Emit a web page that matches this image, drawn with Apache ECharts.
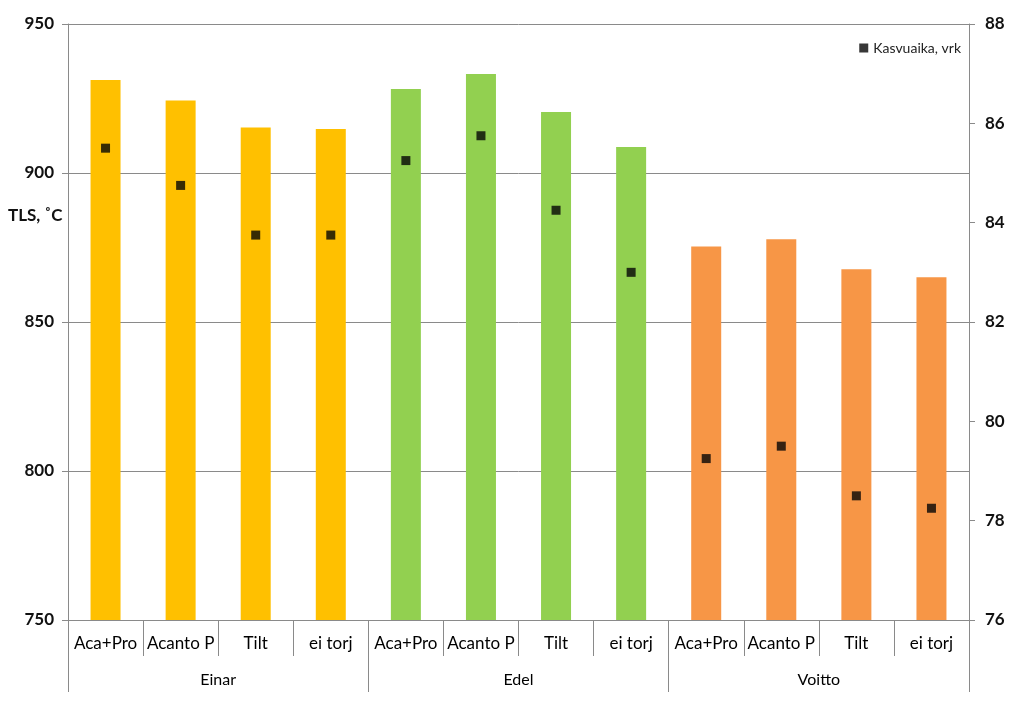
<!DOCTYPE html>
<html>
<head>
<meta charset="utf-8">
<script src="https://cdn.jsdelivr.net/npm/echarts@6/dist/echarts.min.js"></script>
<style>
html,body{margin:0;padding:0;background:#fff;}
#main{width:1024px;height:708px;}
</style>
</head>
<body>
<div id="main"></div>
<script>
const categories = ['Aca+Pro','Acanto P','Tilt','ei torj','Aca+Pro','Acanto P','Tilt','ei torj','Aca+Pro','Acanto P','Tilt','ei torj'];
const groups = ['Einar','Edel','Voitto'];
const tlsValues = [931.2, 924.3, 915.3, 914.8, 928.2, 933.2, 920.5, 908.7, 875.3, 877.8, 867.7, 865.0];
const kasvuaikaValues = [85.5, 84.75, 83.75, 83.75, 85.25, 85.75, 84.25, 83.0, 79.25, 79.5, 78.5, 78.25];
const leftTicks = [750, 800, 850, 900, 950];
const rightTicks = [76, 78, 80, 82, 84, 86, 88];
const seriesName = 'Kasvuaika, vrk';
const axisTitle = 'TLS, \u02DAC';

const groupColors = ['#FFC000', '#92D050', '#F79646'];
const perGroup = categories.length / groups.length;

const FONT = 'Lato, "Open Sans", sans-serif';
const AX = '#8a8a8a';

const chart = echarts.init(document.getElementById('main'));
chart.setOption({
  animation: false,
  backgroundColor: '#fff',
  grid: {left: 68, right: 55, top: 24, bottom: 88, containLabel: false},
  legend: {
    data: [seriesName],
    right: 58, top: 36,
    icon: 'rect', itemWidth: 9, itemHeight: 9, itemGap: 4,
    textStyle: {fontFamily: FONT, fontSize: 14, color: '#222'}
  },
  graphic: [{
    type: 'text', left: 8, top: 207,
    style: {text: axisTitle, font: 'bold 17px ' + FONT, fill: '#111'}
  }],
  xAxis: [{
    type: 'category', data: categories, position: 'bottom',
    axisLine: {show: true, lineStyle: {color: AX}},
    axisTick: {show: true, interval: 0, length: 36, lineStyle: {color: AX}},
    axisLabel: {interval: 0, margin: 15, fontFamily: FONT, fontSize: 17, color: '#000'}
  }, {
    type: 'category', data: groups, position: 'bottom', offset: 0,
    axisLine: {show: false},
    axisTick: {show: true, interval: 0, length: 72, lineStyle: {color: AX}},
    axisLabel: {interval: 0, margin: 52, fontFamily: FONT, fontSize: 16, color: '#000'}
  }],
  yAxis: [{
    type: 'value', min: leftTicks[0], max: leftTicks[leftTicks.length - 1], interval: leftTicks[1] - leftTicks[0],
    position: 'left',
    axisLine: {show: true, lineStyle: {color: AX}},
    axisTick: {show: true, length: 6, lineStyle: {color: AX}},
    splitLine: {show: true, lineStyle: {color: AX}},
    axisLabel: {margin: 14, fontFamily: FONT, fontSize: 17, fontWeight: 'bold', color: '#111'}
  }, {
    type: 'value', min: rightTicks[0], max: rightTicks[rightTicks.length - 1], interval: rightTicks[1] - rightTicks[0],
    position: 'right',
    axisLine: {show: true, lineStyle: {color: AX}},
    axisTick: {show: true, length: 6, lineStyle: {color: AX}},
    splitLine: {show: false},
    axisLabel: {margin: 16, fontFamily: FONT, fontSize: 17, fontWeight: 'bold', color: '#111'}
  }],
  series: [{
    type: 'bar', name: 'TLS', xAxisIndex: 0, yAxisIndex: 0,
    barWidth: 30,
    data: tlsValues.map((v, i) => ({value: v, itemStyle: {color: groupColors[Math.floor(i / perGroup)]}}))
  }, {
    type: 'scatter', name: seriesName, xAxisIndex: 0, yAxisIndex: 1,
    symbol: 'rect', symbolSize: 9,
    itemStyle: {color: '#050505'},
    data: kasvuaikaValues
  }]
});
</script>
</body>
</html>
